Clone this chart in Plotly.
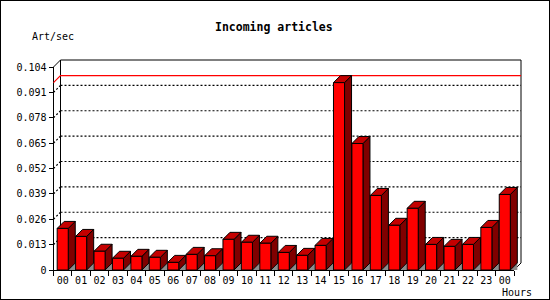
import plotly.graph_objects as go

# ---------------- data ----------------
hours = ["00", "01", "02", "03", "04", "05", "06", "07", "08", "09", "10", "11",
         "12", "13", "14", "15", "16", "17", "18", "19", "20", "21", "22", "23", "00"]
rate = [0.0213, 0.0172, 0.0096, 0.0060, 0.0070, 0.0065, 0.0039, 0.0080, 0.0073,
        0.0157, 0.0142, 0.0137, 0.0090, 0.0075, 0.0126, 0.0960, 0.0648, 0.0382,
        0.0229, 0.0316, 0.0131, 0.0121, 0.0131, 0.0218, 0.0387]
y_ticks = [0, 0.013, 0.026, 0.039, 0.052, 0.065, 0.078, 0.091, 0.104]
y_tick_labels = ["0", "0.013", "0.026", "0.039", "0.052", "0.065", "0.078", "0.091", "0.104"]
title_text = "Incoming articles"
y_title = "Art/sec"
x_title = "Hours"

# ---------------- geometry (pixels) ----------------
W, H = 550, 300
FX0, FX1 = 53.5, 514.0      # front x-axis pixel extent
FY0, FY1 = 270.0, 67.0      # pixel rows of y=0 and y=top tick
DEPTH = 7                   # 3D depth in px
PAD = 4
BAR_FRAC = 0.6

n = len(hours)
x_lo, x_hi = -0.5, n - 0.5
y_lo, y_hi = y_ticks[0], y_ticks[-1]
upx = (x_hi - x_lo) / (FX1 - FX0)
vpx = (y_hi - y_lo) / (FY0 - FY1)
dxu, dyu = DEPTH * upx, DEPTH * vpx

DX0, DX1 = FX0 - PAD, FX1 + DEPTH + PAD
DYB, DYT = FY0 + PAD, FY1 - DEPTH - PAD
dr_x = [x_lo - PAD * upx, x_hi + (DEPTH + PAD) * upx]
dr_y = [y_lo - PAD * vpx, y_hi + (DEPTH + PAD) * vpx]

MONO = "DejaVu Sans Mono"
FRONT = "#ff0000"
SIDE = "#800000"
TOP = "#c40000"
SHADOW = "#8c8c8c"

fig = go.Figure()


def add_lines(xs, ys, color="black", dash=None, width=1):
    fig.add_trace(go.Scatter(x=xs, y=ys, mode="lines", xaxis="x2", yaxis="y2",
                             line=dict(color=color, width=width, dash=dash),
                             hoverinfo="skip", showlegend=False))


def add_polys(polys, fill, outline=True):
    xs, ys = [], []
    for p in polys:
        for (a, b) in p:
            xs.append(a)
            ys.append(b)
        xs += [p[0][0], None]
        ys += [p[0][1], None]
    fig.add_trace(go.Scatter(x=xs, y=ys, mode="lines", fill="toself", fillcolor=fill,
                             xaxis="x2", yaxis="y2",
                             line=dict(color="black" if outline else fill, width=1 if outline else 0),
                             hoverinfo="skip", showlegend=False))


# grid lines on back wall + left wall stubs
gx, gy = [], []
sx, sy = [], []
for v in y_ticks[1:-1]:
    gx += [x_lo + dxu, x_hi + dxu, None]
    gy += [v + dyu, v + dyu, None]
    sx += [x_lo, x_lo + dxu, None]
    sy += [v, v + dyu, None]
add_lines(gx, gy, dash="2px,2px", width=1.2)
add_lines(sx, sy, dash="2px,2px", width=1.2)

# back wall frame
add_lines([x_lo, x_lo + dxu, x_lo + dxu], [y_hi, y_hi + dyu, y_lo + dyu])
add_lines([x_lo + dxu, x_hi + dxu, x_hi + dxu, x_hi], [y_hi + dyu, y_hi + dyu, y_lo + dyu, y_lo])

# max line
vmax = max(rate)
add_lines([x_lo, x_lo + dxu, x_hi + dxu], [vmax, vmax + dyu, vmax + dyu], color="#ff0000", width=1.2)

# bars
half = BAR_FRAC / 2
shadows, sides, tops, fronts = [], [], [], []
for i, v in enumerate(rate):
    xl, xr = i - half, i + half
    shadows.append([(xr, 0), (xr + dxu, dyu), (xr + dxu, 0)])
    sides.append([(xr, 0), (xr, v), (xr + dxu, v + dyu), (xr + dxu, dyu)])
    tops.append([(xl, v), (xl + dxu, v + dyu), (xr + dxu, v + dyu), (xr, v)])
    fronts.append([(xl, 0), (xl, v), (xr, v), (xr, 0)])
add_polys(shadows, SHADOW, outline=False)
add_polys(sides, SIDE)
add_polys(tops, TOP)
add_polys(fronts, FRONT)

# dummy traces so the front axes exist
fig.add_trace(go.Scatter(x=[None], y=[None], xaxis="x", yaxis="y", showlegend=False))
fig.add_trace(go.Scatter(x=[None], y=[None], xaxis="x3", yaxis="y", showlegend=False))

tickfont = dict(family=MONO, size=10, color="black")
fig.update_layout(
    template="none",
    width=W, height=H, margin=dict(l=0, r=0, t=0, b=0, pad=0, autoexpand=False),
    paper_bgcolor="white", plot_bgcolor="rgba(0,0,0,0)",
    showlegend=False,
    xaxis=dict(domain=[FX0 / W, FX1 / W], range=[x_lo, x_hi], anchor="y", automargin=False,
               tickmode="array", tickvals=list(range(n)), ticktext=hours,
               ticks="", ticklabelstandoff=1, showgrid=False, zeroline=False, showline=True,
               linecolor="black", linewidth=1, tickfont=tickfont, fixedrange=True),
    xaxis3=dict(overlaying="x", range=[x_lo, x_hi], anchor="y", automargin=False,
                tickmode="array", tickvals=[k - 0.5 for k in range(n + 1)],
                ticks="outside", ticklen=5, tickcolor="black", tickwidth=1,
                showticklabels=False, showgrid=False, zeroline=False, showline=False),
    yaxis=dict(domain=[(H - FY0) / H, (H - FY1) / H], range=[y_lo, y_hi], anchor="x",
               automargin=False,
               tickmode="array", tickvals=y_ticks, ticktext=y_tick_labels,
               ticks="outside", ticklen=4, tickcolor="black", tickwidth=1,
               showgrid=False, zeroline=False, showline=True,
               linecolor="black", linewidth=1, tickfont=tickfont),
    xaxis2=dict(domain=[DX0 / W, DX1 / W], range=dr_x, anchor="y2", visible=False,
                automargin=False),
    yaxis2=dict(domain=[(H - DYB) / H, (H - DYT) / H], range=dr_y, anchor="x2", visible=False,
                automargin=False),
    shapes=[dict(type="rect", xref="paper", yref="paper", x0=0, x1=1, y0=0, y1=1,
                 line=dict(color="black", width=2), fillcolor="rgba(0,0,0,0)")],
    annotations=[
        dict(text="<b>" + title_text + "</b>", xref="paper", yref="paper",
             x=274 / W, y=1 - 27 / H, xanchor="center", yanchor="middle",
             showarrow=False, font=dict(family=MONO, size=11.5, color="black")),
        dict(text=y_title, xref="paper", yref="paper", x=30 / W, y=1 - 37 / H,
             xanchor="left", yanchor="middle", showarrow=False,
             font=dict(family=MONO, size=10, color="black")),
        dict(text=x_title, xref="paper", yref="paper", x=534 / W, y=1 - 292 / H,
             xanchor="right", yanchor="middle", showarrow=False,
             font=dict(family=MONO, size=10, color="black")),
    ],
)

fig.write_html("out.html")
